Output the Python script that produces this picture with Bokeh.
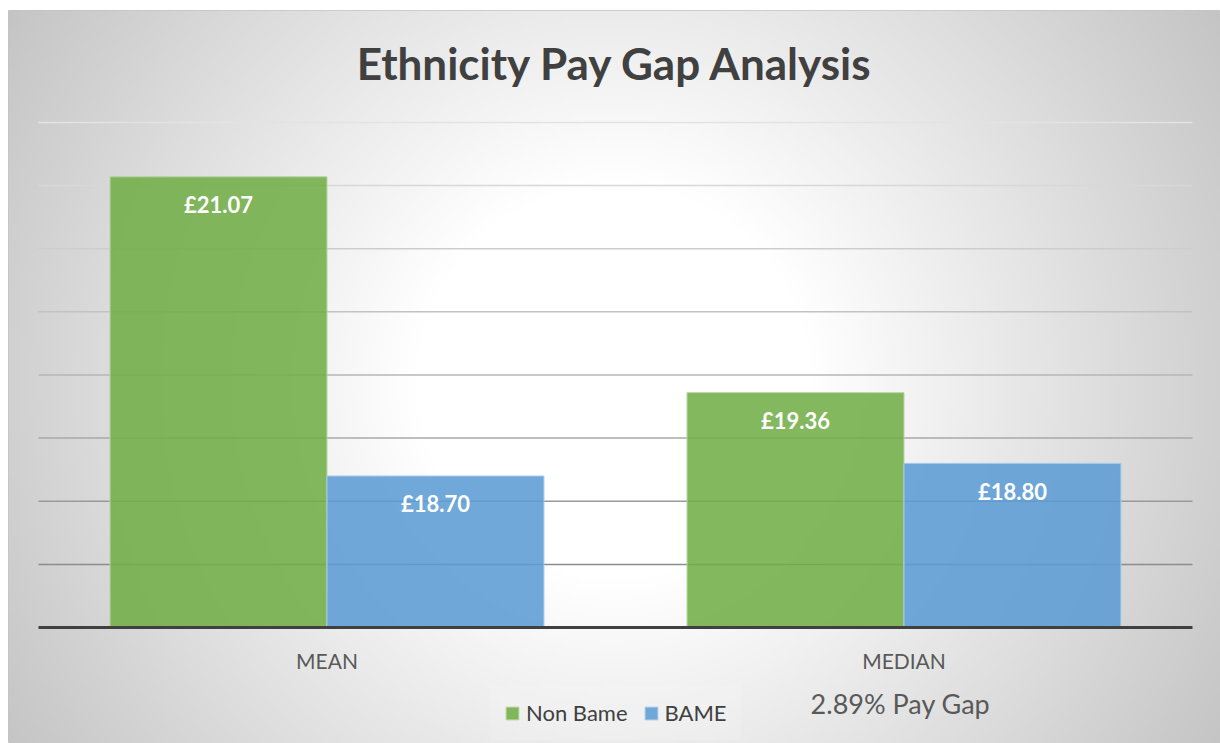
import numpy as np
from bokeh.plotting import figure
from bokeh.models import ColumnDataSource, Range1d, Legend, LegendItem, Label
from bokeh.transform import dodge
from bokeh.core.properties import value
from bokeh.embed import file_html
from bokeh.resources import INLINE

# ---- data ----
categories = ["MEAN", "MEDIAN"]
non_bame = [21.07, 19.36]
bame = [18.70, 18.80]
non_bame_labels = ["£21.07", "£19.36"]
bame_labels = ["£18.70", "£18.80"]
y_ticks = [18.0, 18.5, 19.0, 19.5, 20.0, 20.5, 21.0, 21.5]
y_base = 17.5
title_text = "Ethnicity Pay Gap Analysis"
note_text = "2.89% Pay Gap"

# ---- styles ----
GREEN = "#70ad47"
BLUE = "#5b9bd5"
FONT = "Lato"
grid_colors = ["#8c8c8c", "#9a9a9a", "#a8a8a8", "#b6b6b6", "#c2c2c2", "#cdcdcd", "#d8d8d8", "#e3e3e3"]

W, H = 1212, 733          # frame size
OX, OY = 8, 10            # frame offset in page
x0r, x1r = -0.55199, 1.54853
y0r, y1r = 16.5812, 22.3871

p = figure(width=W + OX, height=H + OY, x_range=Range1d(x0r, x1r), y_range=Range1d(y0r, y1r),
           output_backend="svg", toolbar_location=None, title=None,
           x_axis_location=None, y_axis_location=None,
           min_border=0, min_border_top=OY, min_border_left=OX, border_fill_color="white",
           outline_line_color="#c4c4c4", outline_line_width=1)
p.xgrid.visible = False
p.ygrid.visible = False

# radial background gradient (style)
f = 4
hh, ww = H // f + 1, W // f + 1
rows = np.arange(hh)[:, None]
cols = np.arange(ww)[None, :]
py = 743 - (rows * f + f / 2)
px = 8 + (cols * f + f / 2)
d = np.sqrt((px - 615.0) ** 2 + (py - 380.0) ** 2)
v = 255 - 57 * np.clip(d - 200, 0, None) / 500
v = np.clip(v, 185, 255).astype(np.uint32)
img = (255 << 24) | (v << 16) | (v << 8) | v
img = img.astype(np.uint32)
p.image_rgba(image=[img], x=x0r, y=y0r, dw=(x1r - x0r), dh=(y1r - y0r))

src = ColumnDataSource(dict(
    xi=list(range(len(categories))), cat=categories,
    non_bame=non_bame, bame=bame,
    nb_lbl=non_bame_labels, b_lbl=bame_labels,
))

# gridlines
n = len(categories)
p.segment(x0=-0.5, y0=y_ticks, x1=n - 0.5, y1=y_ticks, line_color=grid_colors, line_width=1.5)

bw = 0.376
off = bw / 2
r1 = p.vbar(x=dodge("xi", -off, range=p.x_range), top="non_bame", bottom=y_base, width=bw,
            source=src, fill_color=GREEN, fill_alpha=0.87, line_color="#b5d69e", line_width=1)
r2 = p.vbar(x=dodge("xi", off, range=p.x_range), top="bame", bottom=y_base, width=bw,
            source=src, fill_color=BLUE, fill_alpha=0.87, line_color="#a9cbeb", line_width=1)

# baseline
p.segment(x0=-0.5, y0=y_base, x1=n - 0.5, y1=y_base, line_color="#404040", line_width=3)

# value labels
for col, o in (("nb_lbl", -off), ("b_lbl", off)):
    ycol = "non_bame" if col == "nb_lbl" else "bame"
    p.text(x=dodge("xi", o, range=p.x_range), y=ycol, text=col, source=src, y_offset=28,
           text_align="center", text_baseline="middle", text_color="white",
           text_font=value(FONT), text_font_style="bold", text_font_size="22px")

# category labels
p.text(x="xi", y=y_base, text="cat", source=src, y_offset=33,
       text_align="center", text_baseline="middle", text_color="#595959",
       text_font=value(FONT), text_font_size="21px")

# title
p.add_layout(Label(x=607, y=681, x_units="screen", y_units="screen", text=title_text,
                   text_align="center", text_baseline="middle", text_color="#404040",
                   text_font=FONT, text_font_style="bold", text_font_size="44px"))

# note
p.add_layout(Label(x=892, y=40, x_units="screen", y_units="screen", text=note_text,
                   text_align="center", text_baseline="middle", text_color="#595959",
                   text_font=FONT, text_font_size="27px"))

legend = Legend(items=[LegendItem(label="Non Bame", renderers=[r1]),
                       LegendItem(label="BAME", renderers=[r2])],
                orientation="horizontal", location=(482, 3),
                glyph_width=16, glyph_height=16, label_height=16, label_standoff=6,
                spacing=15, padding=14, margin=0,
                label_text_font=FONT, label_text_font_size="22px", label_text_color="#404040",
                background_fill_color="white", background_fill_alpha=0.12,
                border_line_alpha=0)
p.add_layout(legend)

open("out.html", "w").write(file_html(p, INLINE))
